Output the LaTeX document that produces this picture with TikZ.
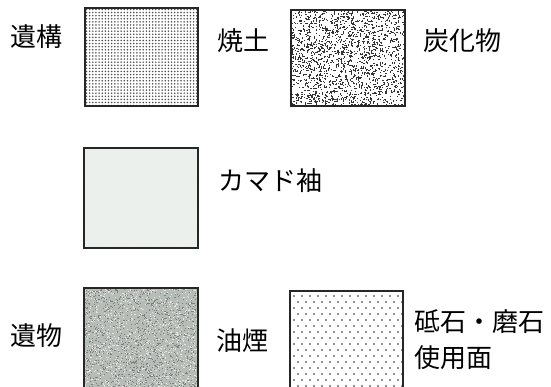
\documentclass[tikz,border=0pt]{standalone}
\usepackage{fontspec}
\newfontfamily\jp{Noto Sans CJK JP}
\usetikzlibrary{patterns}
\definecolor{palegrey}{RGB}{236,240,236}
\definecolor{midgrey}{RGB}{182,188,182}
\tikzset{
  lbl/.style={font=\jp\fontsize{26}{31}\selectfont, inner sep=0pt},
  frame/.style={draw=black!85, line width=1.1pt}
}
\begin{document}
\begin{tikzpicture}[x=1pt,y=-1pt]
\useasboundingbox (0,0) rectangle (551,387);
\fill[white] (0,0) rectangle (551,387);
\clip (0,0) rectangle (551,387);
% box 1: fine dots (遺構)
\begin{scope}
\clip (85,8) rectangle (198,106);
\foreach \r in {0,...,31}{
  \foreach \c in {0,...,35}{
    \fill[black!70] (86.5+3.15*\c,9.5+3.1*\r) circle (0.85);
  }
}
\end{scope}
\draw[frame] (85,8) rectangle (198,106);
% box 2: random speckles (炭化物)
\begin{scope}
\clip (291,10) rectangle (405,106);
\pgfmathsetseed{7}
\foreach \i in {1,...,900}{
  \pgfmathsetmacro\xx{291+114*rnd}
  \pgfmathsetmacro\yy{10+96*rnd}
  \pgfmathsetmacro\ww{0.8+1.6*rnd}
  \fill[black!80] (\xx,\yy) rectangle ++(\ww,0.8);
}
\foreach \i in {1,...,900}{
  \pgfmathsetmacro\xx{291+114*rnd}
  \pgfmathsetmacro\yy{10+96*rnd}
  \pgfmathsetmacro\hh{0.8+1.6*rnd}
  \fill[black!80] (\xx,\yy) rectangle ++(0.8,\hh);
}
\end{scope}
\draw[frame] (291,10) rectangle (405,106);
% box 3: very light grey (カマド袖)
\fill[palegrey] (84,148) rectangle (198,248);
\fill[pattern=crosshatch dots, pattern color=black!6] (84,148) rectangle (198,248);
\draw[frame] (84,148) rectangle (198,248);
% box 4: medium grey noise (遺物)
\fill[midgrey] (84,288) rectangle (198,392);
\begin{scope}
\clip (84,288) rectangle (198,392);
\pgfmathsetseed{3}
\foreach \i in {1,...,1300}{
  \pgfmathsetmacro\xx{84+114*rnd}
  \pgfmathsetmacro\yy{288+100*rnd}
  \fill[black!50] (\xx,\yy) rectangle ++(1.1,0.9);
}
\foreach \i in {1,...,1000}{
  \pgfmathsetmacro\xx{84+114*rnd}
  \pgfmathsetmacro\yy{288+100*rnd}
  \fill[black!10] (\xx,\yy) rectangle ++(1.1,0.9);
}
\end{scope}
\draw[frame] (84,288) rectangle (198,392);
% box 5: sparse staggered dots (砥石・磨石使用面)
\begin{scope}
\clip (290,291) rectangle (403,392);
\foreach \r in {0,...,16}{
  \foreach \c in {0,...,14}{
    \pgfmathsetmacro\xx{294+8*\c+4*mod(\r,2)}
    \pgfmathsetmacro\yy{296+6*\r}
    \fill[black!85] (\xx,\yy) circle (0.9);
  }
}
\end{scope}
\draw[frame] (290,291) rectangle (403,392);
% labels
\node[lbl] (ikou) at (36,37) {遺構};
\node[lbl] (shoudo) at (243,41) {焼土};
\node[lbl] (tanka) at (462,41) {炭化物};
\node[lbl] (kamado) at (270,181) {カマド袖};
\node[lbl] (ibutsu) at (36,336) {遺物};
\node[lbl] (yuen) at (242,341) {油煙};
\node[lbl, anchor=west] (toishi) at (414,322) {砥石・磨石};
\node[lbl, anchor=west] (shiyou) at (414,358) {使用面};
\end{tikzpicture}
\end{document}
